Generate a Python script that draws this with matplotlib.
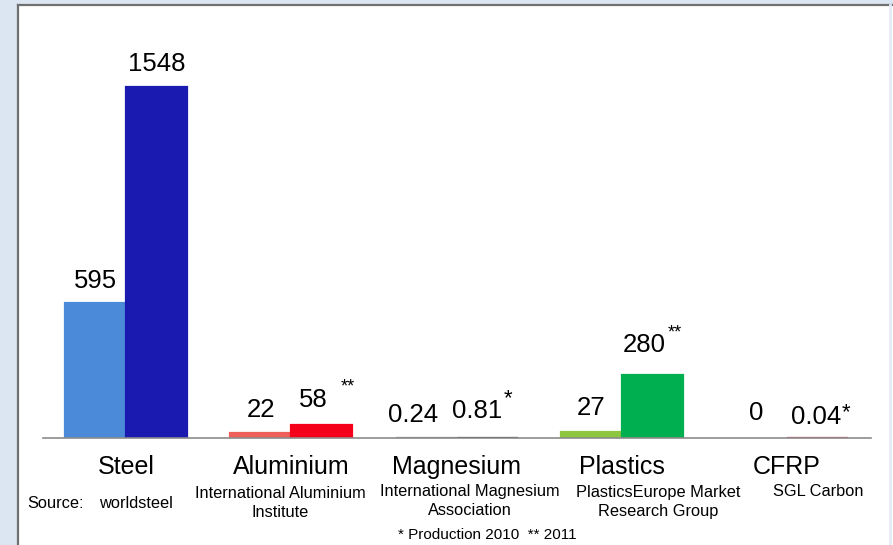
import matplotlib
matplotlib.use("Agg")
from matplotlib import pyplot as plt
from matplotlib.patches import Rectangle
from matplotlib.lines import Line2D

plt.rcParams['font.family'] = ['Liberation Sans', 'DejaVu Sans']

# data (million tonnes)
materials = ['Steel', 'Aluminium', 'Magnesium', 'Plastics', 'CFRP']
first = [595, 22, 0.24, 27, 0]
second = [1548, 58, 0.81, 280, 0.04]
second_marks = ['', '**', '*', '**', '*']
sources = ['worldsteel', 'International Aluminium\nInstitute',
           'International Magnesium\nAssociation',
           'PlasticsEurope Market\nResearch Group', 'SGL Carbon']
footnote = '* Production 2010  ** 2011'

first_colors = ['#4a8ad8', '#f0605a', '#8a8a8a', '#8dc63f', 'none']
second_colors = ['#1a1ab0', '#f5001a', '#303030', '#00b050', '#e0304a']

W, H = 893, 545
fig = plt.figure(figsize=(W / 100, H / 100), dpi=100)
fig.patch.set_facecolor('white')


def px(x, y):
    # pixel position (from top-left) -> figure fraction
    return x / W, 1 - y / H


# frame decoration around the slide
fig.patches.append(Rectangle((0, 0), 17 / W, 1, transform=fig.transFigure,
                             facecolor='#dce6f2', edgecolor='none', zorder=0))
fig.patches.append(Rectangle((0, 1 - 4 / H), 1, 4 / H, transform=fig.transFigure,
                             facecolor='#dce6f2', edgecolor='none', zorder=0))
fig.lines.append(Line2D([18 / W, 18 / W], [0, 1 - 5 / H], transform=fig.transFigure,
                        color='#707070', lw=1.6))
fig.lines.append(Line2D([18 / W, 1], [1 - 5 / H, 1 - 5 / H], transform=fig.transFigure,
                        color='#707070', lw=1.6))
fig.lines.append(Line2D([890 / W, 890 / W], [0, 1 - 5 / H], transform=fig.transFigure,
                        color='#e4ebf5', lw=2))

# axes: baseline at y=438, spans x 43..871
x0, x1 = 43, 871
ytop, ybase = 20, 438
l, b = px(x0, ybase)
ax = fig.add_axes([l, b, (x1 - x0) / W, (ybase - ytop) / H])
ax.set_facecolor('none')

gap = 165.25
ax.set_xlim((x0 - 126) / gap, (x1 - 126) / gap)
scale = 351 / 1548
ax.set_ylim(0, (ybase - ytop) / scale)

width = 61 / gap
pos = list(range(len(materials)))
b1 = ax.bar([p - width / 2 for p in pos], first, width, color=first_colors,
            edgecolor=first_colors, linewidth=1.6)
b2 = ax.bar([p + width / 2 for p in pos], second, width, color=second_colors,
            edgecolor=second_colors, linewidth=1.6)

for s in ['top', 'right', 'left']:
    ax.spines[s].set_visible(False)
ax.spines['bottom'].set_color('#8c8c8c')
ax.spines['bottom'].set_linewidth(1.2)
ax.set_yticks([])
ax.set_xticks(pos)
ax.set_xticklabels(materials, fontsize=18)
ax.tick_params(axis='x', length=0, pad=12)

# value labels
dx1 = [0, 0, -0.08, 0, 0]
dy1 = [15.8, 16.6, 16.2, 17.3, 18]
for i, v in enumerate(first):
    ax.annotate(f'{v:g}', (pos[i] - width / 2 + dx1[i], v), xytext=(0, dy1[i]),
                textcoords='offset points', ha='center', va='center', fontsize=18.5)
dx2 = [0, -0.05, -0.06, -0.05, -0.01]
dy2 = [16.6, 18, 19.4, 21.6, 15.3]
star_dx = [0, 25, 22, 22, 22]
star_dy = [0, 27, 28, 30, 18]
for i, v in enumerate(second):
    ax.annotate(f'{v:g}', (pos[i] + width / 2 + dx2[i], v), xytext=(0, dy2[i]),
                textcoords='offset points', ha='center', va='center', fontsize=18.5)
    if second_marks[i]:
        ax.annotate(second_marks[i], (pos[i] + width / 2 + dx2[i], v),
                    xytext=(star_dx[i], star_dy[i]), textcoords='offset points',
                    ha='center', va='center',
                    fontsize=13 if len(second_marks[i]) > 1 else 16)

# sources
fig.text(*px(56, 503), 'Source:', ha='center', va='center', fontsize=11.8)
fig.text(*px(136, 503), sources[0], ha='center', va='center', fontsize=11.8)
src_x = [280, 470, 658, 818]
src_y = [503, 501, 502, 492]
for i, s in enumerate(sources[1:]):
    fig.text(*px(src_x[i], src_y[i]), s, ha='center', va='center', fontsize=11.8,
             linespacing=1.3)
fig.text(*px(487, 535), footnote, ha='center', va='center', fontsize=11)

fig.savefig('out.png', dpi=100)
